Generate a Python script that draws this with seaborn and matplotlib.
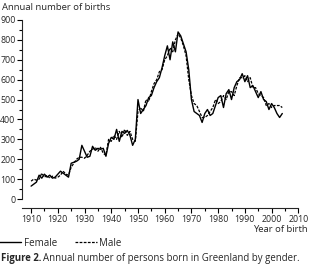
import matplotlib
matplotlib.use("Agg")
import matplotlib.pyplot as plt
import seaborn as sns
import pandas as pd
import numpy as np
from matplotlib.ticker import MultipleLocator
from matplotlib.lines import Line2D

years = list(range(1910, 2005))
female = [65, 75, 85, 120, 105, 125, 110, 120, 105, 110,
          125, 140, 130, 120, 110, 180, 185, 190, 200, 270,
          240, 210, 215, 265, 245, 255, 250, 255, 215, 280,
          310, 300, 350, 290, 340, 330, 345, 320, 270, 300,
          500, 430, 450, 470, 510, 520, 560, 590, 610, 660,
          720, 770, 700, 790, 740, 840, 820, 780, 740, 650,
          500, 440, 430, 420, 385, 430, 450, 420, 430, 470,
          510, 520, 460, 530, 550, 500, 560, 590, 600, 630,
          590, 620, 560, 570, 540, 510, 540, 500, 490, 450,
          480, 460, 430, 410, 430]
male = [90, 100, 95, 100, 130, 110, 120, 105, 115, 105,
        110, 120, 140, 125, 120, 160, 180, 200, 210, 210,
        205, 220, 240, 250, 260, 240, 260, 230, 220, 300,
        290, 320, 300, 340, 310, 350, 320, 340, 300, 290,
        440, 460, 440, 500, 490, 540, 580, 600, 640, 650,
        700, 720, 760, 740, 800, 830, 810, 770, 720, 600,
        520, 480, 470, 440, 410, 410, 420, 440, 460, 500,
        480, 490, 520, 500, 540, 540, 520, 570, 610, 610,
        620, 590, 610, 560, 560, 530, 520, 510, 470, 480,
        460, 470, 470, 470, 460]
x_ticks = list(range(1910, 2011, 10))
y_ticks = list(range(0, 901, 100))

df = pd.DataFrame({
    "year": years * 2,
    "births": female + male,
    "gender": ["Female"] * len(years) + ["Male"] * len(years),
})

sns.set_style("ticks")
plt.rcParams["font.family"] = ["Open Sans", "DejaVu Sans"]

DASH = (0, (2.2, 1.1))
W, H = 310, 265
fig = plt.figure(figsize=(W / 100, H / 100), dpi=100)
ax = fig.add_axes([22 / W, 57 / H, (301 - 22) / W, (208 - 16) / H])

sns.lineplot(data=df[df.gender == "Female"], x="year", y="births", color="black",
             linewidth=1.0, ax=ax, legend=False)
sns.lineplot(data=df[df.gender == "Male"], x="year", y="births", color="black",
             linewidth=0.9, linestyle=DASH, ax=ax, legend=False)

ax.set_xlim(1906.6, 2011)
ax.set_ylim(-45, 920)
ax.set_xticks(x_ticks)
ax.set_yticks(y_ticks)
ax.xaxis.set_minor_locator(MultipleLocator(5))
ax.yaxis.set_minor_locator(MultipleLocator(50))
ax.tick_params(axis="both", which="major", length=3.5, width=0.8, labelsize=6.3, pad=1.2, color="black")
ax.tick_params(axis="both", which="minor", length=2.2, width=0.8, color="black")
for s in ["top", "right"]:
    ax.spines[s].set_visible(False)
ax.spines["left"].set_bounds(0, 900)
ax.spines["bottom"].set_bounds(1906.6, 2010)
ax.spines["left"].set_linewidth(0.8)
ax.spines["bottom"].set_linewidth(0.8)
ax.set_xlabel("")
ax.set_ylabel("")

fig.text(2 / W, 1 - 7 / H, "Annual number of births", fontsize=6.8, va="center", ha="left")
fig.text(308 / W, 1 - 229 / H, "Year of birth", fontsize=6.8, va="center", ha="right")

handles = [Line2D([], [], color="black", linewidth=1.0),
           Line2D([], [], color="black", linewidth=0.9, linestyle=DASH)]
fig.legend(handles, ["Female", "Male"], loc="center left", bbox_to_anchor=(-0.003, 1 - 243 / H),
           ncol=2, frameon=False, fontsize=7.0, handlelength=2.3, handletextpad=0.25,
           columnspacing=1.8, borderaxespad=0, borderpad=0)

t1 = fig.text(1 / W, 1 - 258 / H, "Figure 2.", fontsize=6.9, fontweight="bold", va="center", ha="left")
fig.canvas.draw()
bb = t1.get_window_extent(renderer=fig.canvas.get_renderer())
fig.text((bb.x1 + 2) / W, 1 - 258 / H, "Annual number of persons born in Greenland by gender.",
         fontsize=6.9, va="center", ha="left")

fig.savefig("out.png", dpi=100)
